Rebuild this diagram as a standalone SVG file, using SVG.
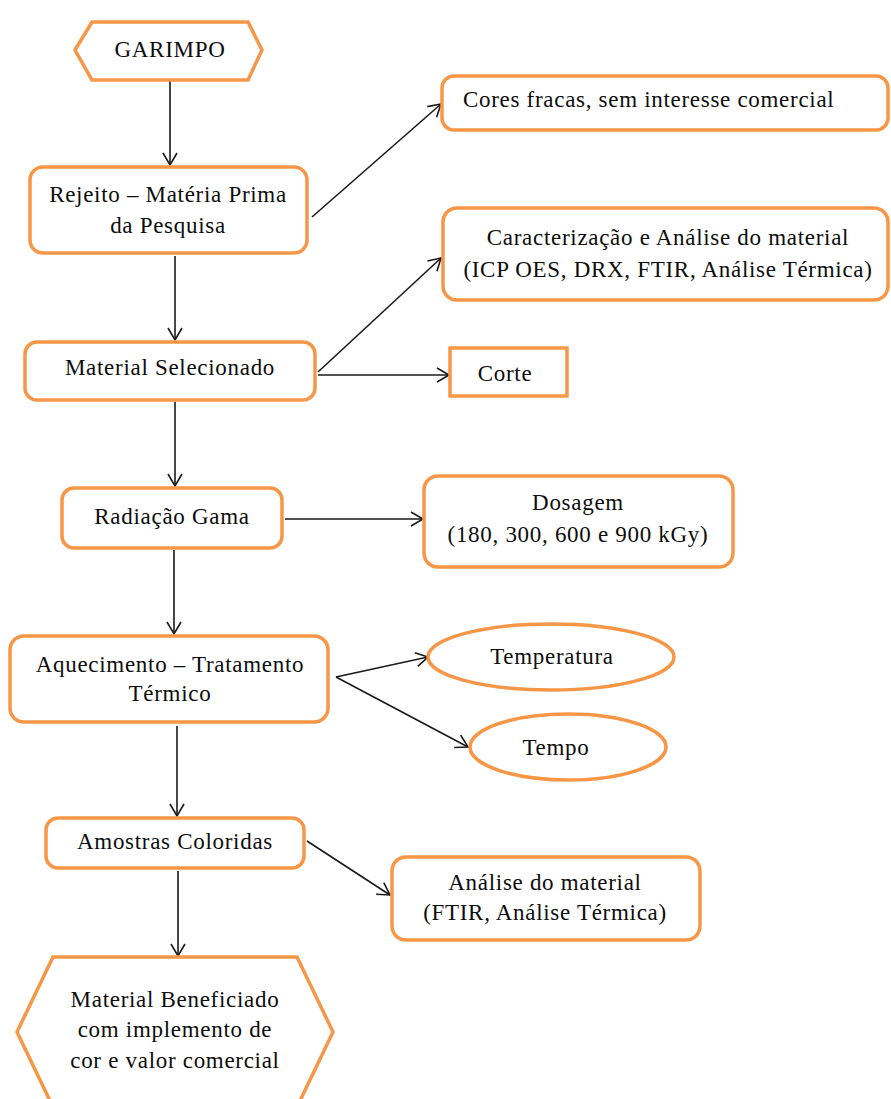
<svg xmlns="http://www.w3.org/2000/svg" width="891" height="1099" viewBox="0 0 891 1099">
<style>
.n{fill:#fff;stroke:#F79646;stroke-width:3.5}
.t{font-family:"Liberation Serif","Times New Roman",serif;font-size:23px;fill:#0d0d0d;letter-spacing:0.7px}
.m{text-anchor:middle}
.c{fill:none;stroke:#1a1a1a;stroke-width:1.6}
</style>
<defs>
<marker id="a" markerUnits="userSpaceOnUse" markerWidth="16" markerHeight="16" refX="12" refY="7" orient="auto" overflow="visible">
<path d="M0,0 L12,7 L0,14" fill="none" stroke="#1a1a1a" stroke-width="1.6"/>
</marker>
</defs>
<rect width="891" height="1099" fill="#fff"/>
<g id="connectors">
<line class="c" x1="170" y1="80" x2="170" y2="165" marker-end="url(#a)"/>
<line class="c" x1="175" y1="256" x2="175" y2="340" marker-end="url(#a)"/>
<line class="c" x1="175" y1="402" x2="175" y2="486" marker-end="url(#a)"/>
<line class="c" x1="174" y1="550" x2="174" y2="634" marker-end="url(#a)"/>
<line class="c" x1="177" y1="726" x2="177" y2="816" marker-end="url(#a)"/>
<line class="c" x1="178" y1="871" x2="178" y2="956" marker-end="url(#a)"/>
<line class="c" x1="312" y1="217" x2="441" y2="104" marker-end="url(#a)"/>
<line class="c" x1="318" y1="372" x2="441" y2="258" marker-end="url(#a)"/>
<line class="c" x1="318" y1="375" x2="449" y2="375" marker-end="url(#a)"/>
<line class="c" x1="285" y1="519" x2="423" y2="519" marker-end="url(#a)"/>
<line class="c" x1="336" y1="677" x2="428" y2="657" marker-end="url(#a)"/>
<line class="c" x1="336" y1="677" x2="468" y2="747" marker-end="url(#a)"/>
<line class="c" x1="307" y1="841" x2="390" y2="895" marker-end="url(#a)"/>
</g>
<g id="garimpo">
<polygon class="n" points="75,50 92,22 248,22 262,50 248,80 92,80"/>
<text class="t m" x="170" y="57">GARIMPO</text>
</g>
<g id="rejeito">
<rect class="n" x="30" y="167" width="277" height="86" rx="13"/>
<text class="t m" x="168" y="202">Rejeito – Matéria Prima</text>
<text class="t m" x="168" y="233">da Pesquisa</text>
</g>
<g id="cores">
<rect class="n" x="442" y="76" width="446" height="54" rx="12"/>
<text class="t" x="463" y="107">Cores fracas, sem interesse comercial</text>
</g>
<g id="caracterizacao">
<rect class="n" x="443" y="208" width="445" height="92" rx="14"/>
<text class="t m" x="668" y="245">Caracterização e Análise do material</text>
<text class="t m" x="668" y="277">(ICP OES, DRX, FTIR, Análise Térmica)</text>
</g>
<g id="material">
<rect class="n" x="25" y="342" width="290" height="58" rx="12"/>
<text class="t m" x="170" y="375">Material Selecionado</text>
</g>
<g id="corte">
<rect class="n" x="450" y="348" width="117" height="48"/>
<text class="t m" x="505" y="381">Corte</text>
</g>
<g id="radiacao">
<rect class="n" x="62" y="488" width="220" height="60" rx="12"/>
<text class="t m" x="172" y="524">Radiação Gama</text>
</g>
<g id="dosagem">
<rect class="n" x="424" y="476" width="309" height="91" rx="14"/>
<text class="t m" x="578" y="510">Dosagem</text>
<text class="t m" x="578" y="542">(180, 300, 600 e 900 kGy)</text>
</g>
<g id="aquecimento">
<rect class="n" x="10" y="636" width="318" height="86" rx="14"/>
<text class="t m" x="170" y="672">Aquecimento – Tratamento</text>
<text class="t m" x="170" y="701">Térmico</text>
</g>
<g id="temperatura">
<ellipse class="n" cx="551" cy="657" rx="123" ry="33"/>
<text class="t m" x="552" y="664">Temperatura</text>
</g>
<g id="tempo">
<ellipse class="n" cx="568" cy="747" rx="98" ry="33"/>
<text class="t m" x="556" y="755">Tempo</text>
</g>
<g id="amostras">
<rect class="n" x="46" y="818" width="258" height="50" rx="12"/>
<text class="t m" x="175" y="849">Amostras Coloridas</text>
</g>
<g id="analise">
<rect class="n" x="392" y="857" width="308" height="83" rx="14"/>
<text class="t m" x="545" y="890">Análise do material</text>
<text class="t m" x="545" y="920">(FTIR, Análise Térmica)</text>
</g>
<g id="beneficiado">
<polygon class="n" points="17,1032 53,957 297,957 333,1032 297,1107 53,1107"/>
<text class="t m" x="175" y="1007">Material Beneficiado</text>
<text class="t m" x="175" y="1037">com implemento de</text>
<text class="t m" x="175" y="1068">cor e valor comercial</text>
</g>
</svg>
